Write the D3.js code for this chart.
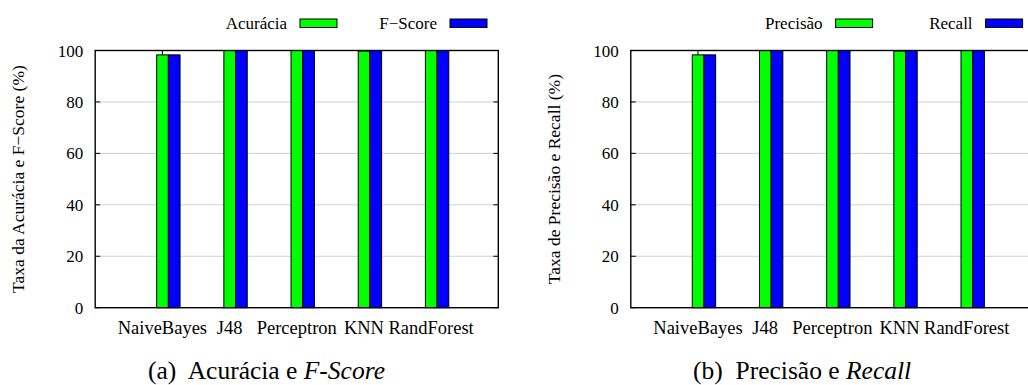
<!DOCTYPE html>
<html><head><meta charset="utf-8">
<script src="https://cdn.jsdelivr.net/npm/d3@7"></script>
<style>
html,body{margin:0;padding:0;background:#fff;overflow:hidden}
svg{display:block}
svg text{font-family:"Liberation Serif","Times New Roman",serif}
</style></head>
<body>
<svg id="chart" width="1028" height="385"></svg>
<script>
const categories = ["NaiveBayes", "J48", "Perceptron", "KNN", "RandForest"];
const acuracia = [98.3, 100, 100, 99.8, 100];
const fscore   = [98.3, 100, 100, 100, 100];
const precisao = [98.3, 100, 100, 99.8, 100];
const recall   = [98.3, 100, 100, 100, 100];
const yTicks = [0, 20, 40, 60, 80, 100];
const panelA = {s1: "Acurácia", s2: "F−Score", ylabel: "Taxa da Acurácia e F−Score (%)", cap: ["(a)  Acurácia e ", "F-Score"]};
const panelB = {s1: "Precisão", s2: "Recall", ylabel: "Taxa de Precisão e Recall (%)", cap: ["(b)  Precisão e ", "Recall"]};

const svg = d3.select("#chart");
const GREEN = "#00ff00", BLUE = "#0000ff";

function panel(offset, cfg, v1, v2) {
  const left = 95.2 + offset, right = 498.3 + offset, top = 50.5, bottom = 307.7;
  const x = d3.scaleLinear().domain([-1, 5]).range([left, right]);
  const y = d3.scaleLinear().domain([0, 100]).range([bottom, top]);
  const g = svg.append("g");
  const bw = 0.174;

  g.append("g").selectAll("line").data(yTicks.filter(t => t > 0 && t < 100)).join("line")
    .attr("x1", left).attr("x2", right).attr("y1", d => y(d)).attr("y2", d => y(d))
    .attr("stroke", "#cfcfcf").attr("stroke-width", 1);

  g.append("g").selectAll("line").data(yTicks).join("line")
    .attr("x1", left).attr("x2", left + 5).attr("y1", d => y(d)).attr("y2", d => y(d))
    .attr("stroke", "#000");
  g.append("g").selectAll("line").data(yTicks).join("line")
    .attr("x1", right).attr("x2", right - 5).attr("y1", d => y(d)).attr("y2", d => y(d))
    .attr("stroke", "#000");
  g.append("g").selectAll("line").data(categories.map((c, i) => i)).join("line")
    .attr("x1", d => x(d)).attr("x2", d => x(d)).attr("y1", top).attr("y2", top + 5)
    .attr("stroke", "#000");
  g.append("g").selectAll("line").data(categories.map((c, i) => i)).join("line")
    .attr("x1", d => x(d)).attr("x2", d => x(d)).attr("y1", bottom).attr("y2", bottom - 5)
    .attr("stroke", "#000");

  const bars = g.append("g");
  bars.selectAll("rect.s1").data(v1).join("rect").attr("class", "s1")
    .attr("x", (d, i) => x(i - 0.085)).attr("width", x(bw) - x(0))
    .attr("y", d => y(d)).attr("height", d => y(0) - y(d))
    .attr("fill", GREEN).attr("stroke", "#000").attr("stroke-width", 1);
  bars.selectAll("rect.s2").data(v2).join("rect").attr("class", "s2")
    .attr("x", (d, i) => x(i + 0.089)).attr("width", x(bw) - x(0))
    .attr("y", d => y(d)).attr("height", d => y(0) - y(d))
    .attr("fill", BLUE).attr("stroke", "#000").attr("stroke-width", 1);

  g.append("rect").attr("x", left).attr("y", top).attr("width", right - left).attr("height", bottom - top)
    .attr("fill", "none").attr("stroke", "#000").attr("stroke-width", 1.4);

  g.append("g").selectAll("text").data(yTicks).join("text")
    .attr("x", left - 12).attr("y", d => y(d) + 6)
    .attr("text-anchor", "end").attr("font-size", 17).text(d => d);

  g.append("g").selectAll("text").data(categories).join("text")
    .attr("x", (d, i) => x(i)).attr("y", 334)
    .attr("text-anchor", "middle").attr("font-size", 18.5).text(d => d);

  g.append("text").attr("transform", `translate(${offset + 24},${(top + bottom) / 2}) rotate(-90)`)
    .attr("text-anchor", "middle").attr("font-size", 17.5).text(cfg.ylabel);

  const leg = [{t: cfg.s1, c: GREEN, xe: 287}, {t: cfg.s2, c: BLUE, xe: 437}];
  leg.forEach(l => {
    g.append("text").attr("x", l.xe + offset).attr("y", 29).attr("text-anchor", "end")
      .attr("font-size", 17).text(l.t);
    g.append("rect").attr("x", l.xe + offset + 13).attr("y", 19).attr("width", 37).attr("height", 8.5)
      .attr("fill", l.c).attr("stroke", "#000").attr("stroke-width", 1);
  });

  const cap = g.append("text").attr("x", 266.5 + offset).attr("y", 379).attr("text-anchor", "middle")
    .attr("font-size", 25.5).attr("xml:space", "preserve");
  cap.append("tspan").text(cfg.cap[0]);
  cap.append("tspan").attr("font-style", "italic").text(cfg.cap[1]);
}

panel(0, panelA, acuracia, fscore);
panel(535.6, panelB, precisao, recall);
</script>
</body></html>
